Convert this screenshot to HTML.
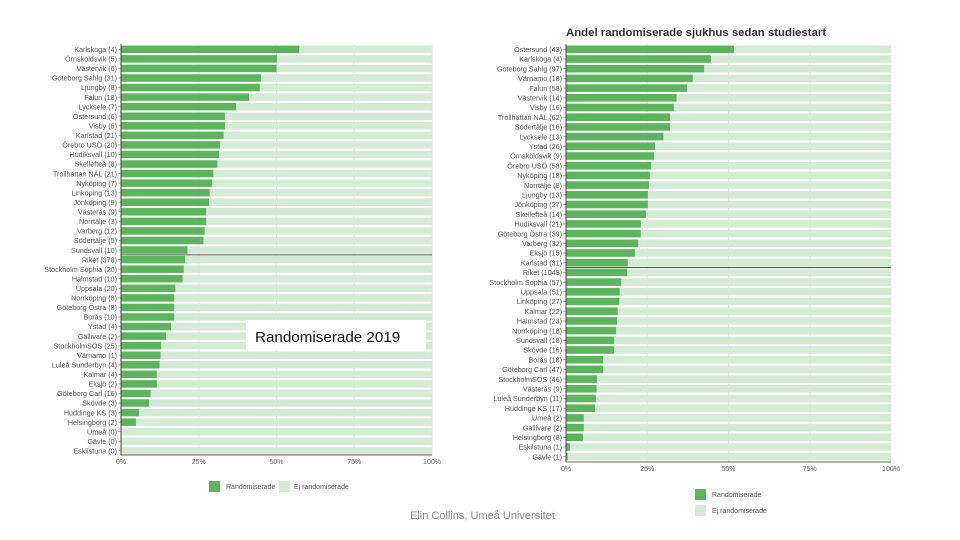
<!DOCTYPE html>
<html><head><meta charset="utf-8">
<style>
body{margin:0;background:#fff;width:960px;height:540px;overflow:hidden;font-family:"Liberation Sans",sans-serif}
svg{position:absolute;left:0;top:0}
</style></head>
<body>
<svg id="c" width="960" height="540"></svg>
<script>
const leftCategories=["Karlskoga (4)","Örnsköldsvik (5)","Västervik (6)","Göteborg Sahlg (31)","Ljungby (8)","Falun (18)","Lycksele (7)","Östersund (6)","Visby (6)","Karlstad (21)","Örebro USÖ (20)","Hudiksvall (10)","Skellefteå (8)","Trollhättan NÄL (21)","Nyköping (7)","Linköping (13)","Jönköping (9)","Västerås (9)","Norrtälje (3)","Varberg (12)","Södertälje (5)","Sundsvall (10)","Riket (378)","Stockholm Sophia (20)","Halmstad (10)","Uppsala (20)","Norrköping (8)","Göteborg Östra (8)","Borås (10)","Ystad (4)","Gällivare (2)","StockholmSÖS (25)","Värnamo (1)","Luleå Sunderbyn (4)","Kalmar (4)","Eksjö (2)","Göteborg Carl (16)","Skövde (3)","Huddinge KS (3)","Helsingborg (2)","Umeå (0)","Gävle (0)","Eskilstuna (0)"];
const leftValues=[57.3,50.2,50,45,44.6,41.2,37,33.4,33.4,33,31.9,31.5,31,29.7,29.3,28.5,28.3,27.4,27.4,26.9,26.5,21.4,20.6,20.2,19.8,17.5,17.1,17.1,17.1,16.1,14.5,12.9,12.7,12.4,11.5,11.5,9.5,9,5.8,4.8,0,0,0];
const rightCategories=["Östersund (43)","Karlskoga (4)","Göteborg Sahlg (97)","Värnamo (18)","Falun (58)","Västervik (14)","Visby (16)","Trollhättan NÄL (62)","Södertälje (16)","Lycksele (13)","Ystad (26)","Örnsköldsvik (9)","Örebro USÖ (58)","Nyköping (18)","Norrtälje (8)","Ljungby (13)","Jönköping (27)","Skellefteå (14)","Hudiksvall (21)","Göteborg Östra (39)","Varberg (32)","Eksjö (15)","Karlstad (31)","Riket (1048)","Stockholm Sophia (57)","Uppsala (51)","Linköping (27)","Kalmar (22)","Halmstad (23)","Norrköping (18)","Sundsvall (18)","Skövde (16)","Borås (18)","Göteborg Carl (47)","StockholmSÖS (46)","Västerås (9)","Luleå Sunderbyn (11)","Huddinge KS (17)","Umeå (2)","Gällivare (2)","Helsingborg (8)","Eskilstuna (1)","Gävle (1)"];
const rightValues=[51.7,44.6,42.5,39,37.2,34,33.2,32,32,30,27.4,27.1,26.2,25.8,25.5,25.2,25.2,24.6,23,23,22.2,21.2,19,18.8,17,16.5,16.4,15.9,15.7,15.4,14.8,14.8,11.4,11.4,9.5,9.4,9.2,8.9,5.5,5.5,5.2,1.2,0.5];
const tickValues=[0,25,50,75,100];
const tickLabels=["0%","25%","50%","75%","100%"];
const legendLabels=["Randomiserade","Ej randomiserade"];

const NS="http://www.w3.org/2000/svg";
const svg=document.getElementById('c');
function mk(t,a,p){const e=document.createElementNS(NS,t);for(const k in a)e.setAttribute(k,a[k]);(p||svg).appendChild(e);return e;}

function drawChart(cfg,cats,vals){
  const g=mk('g',{});
  
  
  const x=v=>cfg.x0+(cfg.x1-cfg.x0)*v/100;
  const y=i=>cfg.y0+cfg.step*i;
  tickValues.forEach((t,k)=>{
    const gl=mk('line',{x1:x(t),x2:x(t),y1:cfg.top,y2:cfg.bottom,stroke:'#e6e6e6','stroke-width':1},g);
    
    
    const tl=mk('text',{x:x(t),y:cfg.bottom+9,'font-size':7,fill:'#666','text-anchor':'middle'},g);
    tl.textContent=tickLabels[k];
    
    
  });
  const bh=cfg.step*0.78;
  cats.forEach((c,i)=>{
    const cy=y(i);
    const tr=mk('rect',{x:x(0),y:cy-bh/2,width:x(100)-x(0),height:bh,fill:'#d4ead4'},g);
    
    
    const b=mk('rect',{x:x(0),y:cy-bh/2,width:x(vals[i])-x(0),height:bh,fill:'#5cb55c'},g);
    
    
    const l=mk('text',{x:x(0)-4,y:cy+2.7,'font-size':7.2,fill:'#555','text-anchor':'end'},g);
    l.textContent=c;
    
    
    mk('line',{x1:x(0)-2.5,x2:x(0),y1:cy,y2:cy,stroke:'#777','stroke-width':0.7},g);
    if(c.indexOf('Riket')===0){
      const rl=mk('line',{x1:x(0),x2:x(100),y1:cy-cfg.step/2,y2:cy-cfg.step/2,stroke:'#555','stroke-width':1},g);
      
      
    }
  });
  const ax=mk('line',{x1:x(0),x2:x(0),y1:cfg.top,y2:cfg.bottom,stroke:'#444','stroke-width':1},g);
  
  
  const bx=mk('line',{x1:x(0),x2:x(100),y1:cfg.bottom,y2:cfg.bottom,stroke:'#666','stroke-width':1},g);
  
  
}
drawChart({name:'left-chart-2019',x0:121,x1:432,y0:49.3,step:9.56,top:44,bottom:455},leftCategories,leftValues);
drawChart({name:'right-chart-since-start',x0:566,x1:891,y0:49.3,step:9.7,top:44,bottom:462},rightCategories,rightValues);

function legend(items){
  items.forEach((it,k)=>{
    const r=mk('rect',{x:it.x,y:it.y,width:it.s,height:it.s,fill:k===0?'#5cb55c':'#d4ead4'});
    
    
    const t=mk('text',{x:it.tx,y:it.y+it.s/2+2.5,'font-size':7,fill:'#555'});
    t.textContent=legendLabels[k];
    
    
  });
}
legend([{x:209,y:481,s:11,tx:226},{x:279,y:481,s:11,tx:294}]);
legend([{x:695,y:489,s:11,tx:712},{x:695,y:505,s:11,tx:712}]);

const ob=mk('rect',{x:246,y:320,width:180,height:30,fill:'#fff'});


const ot=mk('text',{x:255,y:342,'font-size':15.2,fill:'#111'});
ot.textContent='Randomiserade 2019';



const tt=mk('text',{x:566,y:36,'font-size':11.4,'font-weight':'bold',fill:'#333'});
tt.textContent='Andel randomiserade sjukhus sedan studiestart';



const ft=mk('text',{x:410,y:519,'font-size':11,fill:'#888'});
ft.textContent='Elin Collins, Umeå Universitet';


</script>
</body></html>
